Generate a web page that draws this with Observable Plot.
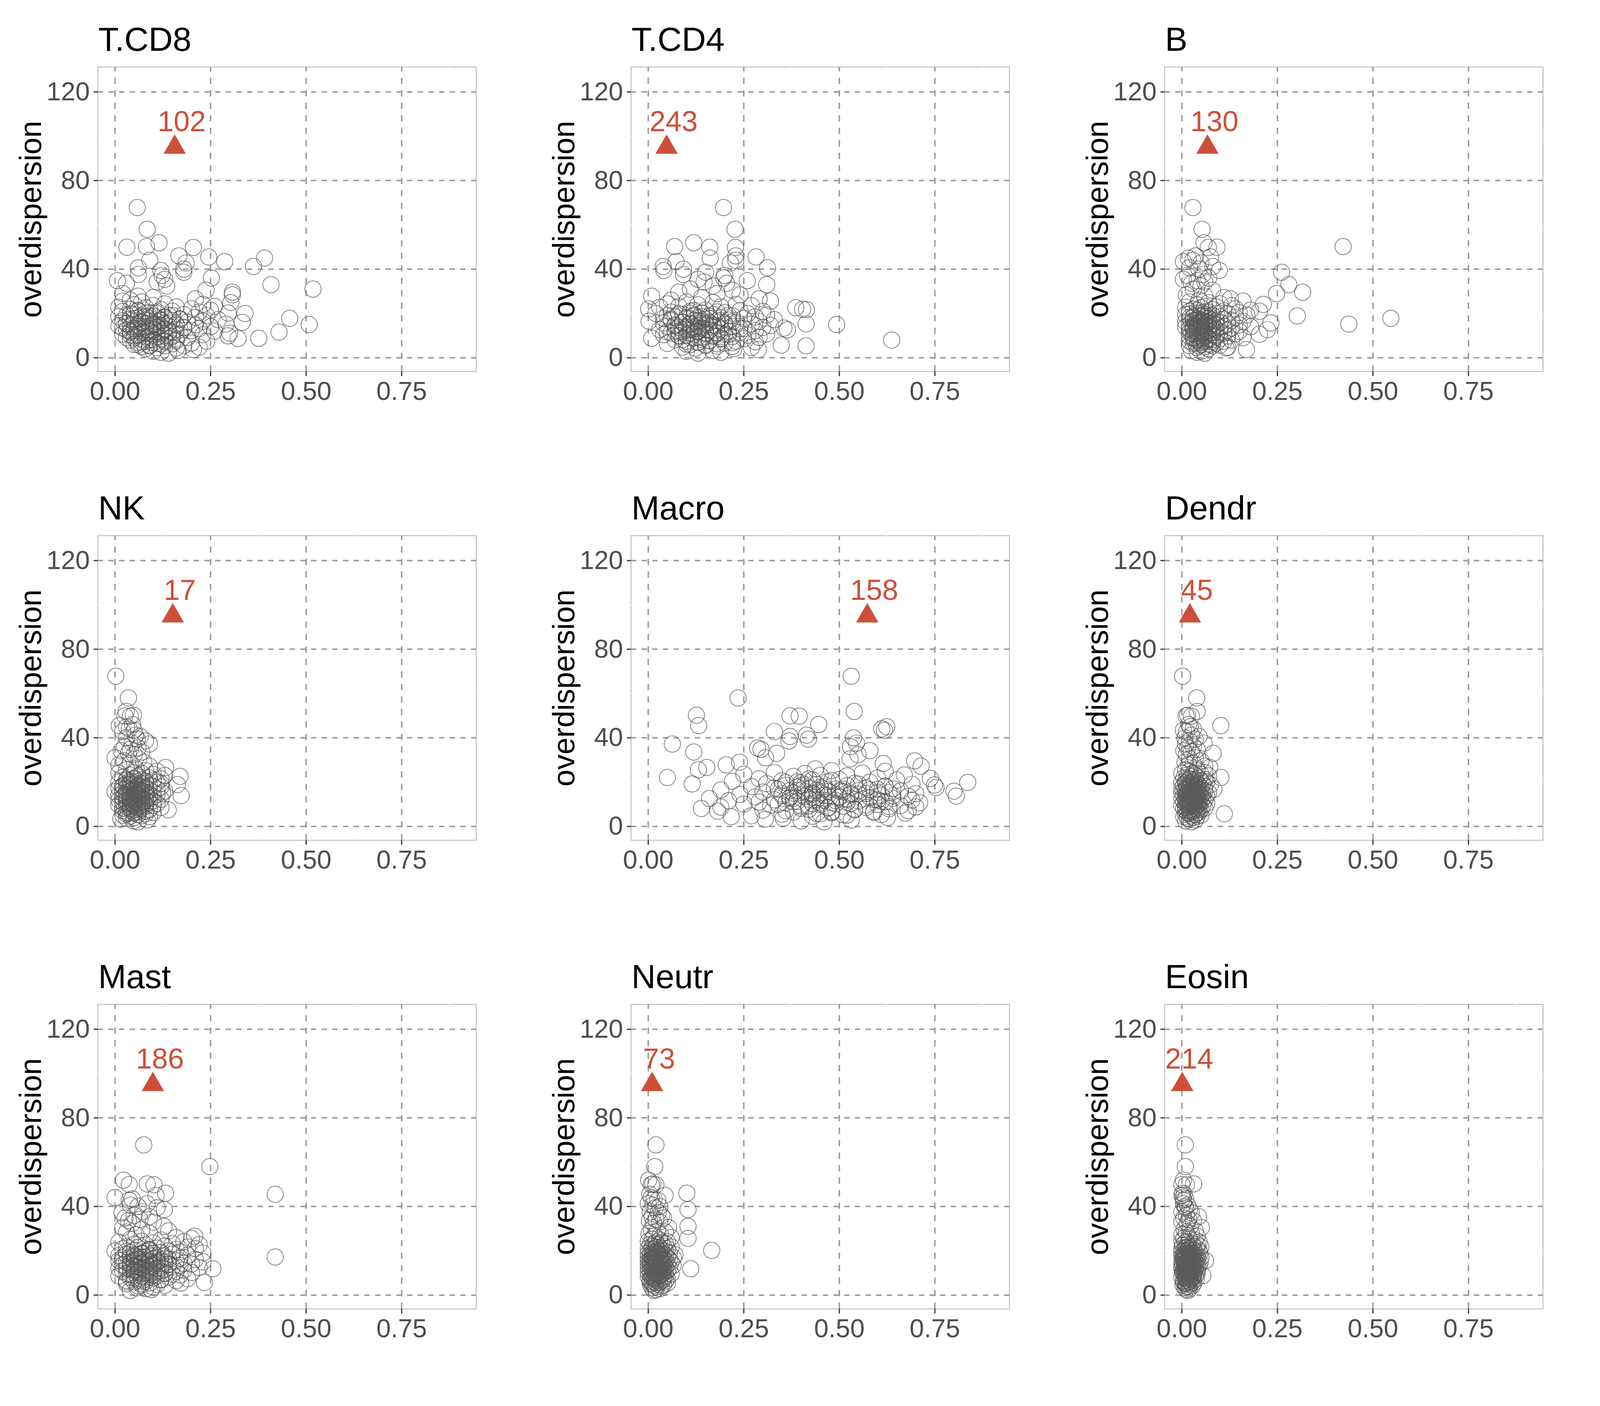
<!DOCTYPE html>
<html>
<head>
<meta charset="utf-8">
<script src="https://cdn.jsdelivr.net/npm/d3@7"></script>
<script src="https://cdn.jsdelivr.net/npm/@observablehq/plot@0.6"></script>
<style>
  html, body { margin: 0; padding: 0; background: white; overflow: hidden; }
  #chart { position: relative; overflow: hidden; background: white; }
</style>
</head>
<body>
<div id="chart"></div>
<script>
// ---------- data ----------
const cellTypes = ["T.CD8", "T.CD4", "B", "NK", "Macro", "Dendr", "Mast", "Neutr", "Eosin"];
const markerX = [0.156, 0.048, 0.067, 0.151, 0.573, 0.021, 0.099, 0.010, 0.001];
const markerY = [95, 95, 95, 95, 95, 95, 95, 95, 95];
const markerLabel = ["102", "243", "130", "17", "158", "45", "186", "73", "214"];

const xTicks = [0, 0.25, 0.5, 0.75];
const yTicks = [0, 40, 80, 120];
const xMinor = [0.125, 0.375, 0.625, 0.875];
const yMinor = [20, 60, 100];

// overdispersion per gene (shared by all panels)
const overdispersionHigh = [67.8, 58.0, 51.9, 50.2, 49.9, 49.8, 46.0, 45.5, 45.0, 44.0, 43.4, 42.8, 41.2, 40.6, 40.0, 39.4, 38.6, 37.6, 37.2, 36.0, 35.4, 34.8, 34.2, 33.6, 33.0, 32.4, 31.0, 30.5, 29.6, 29.0, 28.4, 27.8, 27.2, 26.6, 26.0];
const overdispersionLow = [
  25.6, 25.2, 24.9, 24.3, 24.1, 23.9, 23.5, 23.2, 23.0, 22.8,
  22.6, 22.1, 21.9, 21.7, 21.5, 21.2, 21.0, 20.9, 20.6, 20.4,
  20.2, 20.0, 19.9, 19.7, 19.5, 19.3, 19.2, 19.0, 18.9, 18.7,
  18.5, 18.4, 18.2, 18.0, 17.9, 17.8, 17.6, 17.4, 17.2, 17.0,
  16.9, 16.8, 16.7, 16.5, 16.4, 16.2, 16.1, 16.0, 15.9, 15.7,
  15.6, 15.5, 15.3, 15.2, 15.0, 14.9, 14.8, 14.6, 14.5, 14.3,
  14.2, 14.1, 14.0, 13.9, 13.7, 13.6, 13.4, 13.3, 13.2, 13.0,
  12.9, 12.7, 12.6, 12.5, 12.3, 12.2, 12.0, 11.9, 11.8, 11.6,
  11.5, 11.3, 11.1, 11.0, 10.8, 10.7, 10.6, 10.4, 10.2, 10.1,
  9.9, 9.8, 9.6, 9.4, 9.2, 9.1, 8.8, 8.7, 8.6, 8.3,
  8.1, 8.0, 7.7, 7.5, 7.4, 7.2, 6.9, 6.6, 6.5, 6.3,
  6.0, 5.7, 5.5, 5.4, 5.1, 4.8, 4.6, 4.4, 4.1, 3.7,
  3.3, 2.9, 2.5, 2.1
];
const overdispersionCore = [
  21.4, 20.7, 19.8, 19.1, 18.6, 18.1, 17.7, 17.3, 16.8, 16.6,
  16.3, 15.8, 15.4, 15.1, 14.7, 14.4, 14.0, 13.8, 13.5, 13.1,
  12.8, 12.4, 12.1, 11.7, 11.4, 11.2, 10.9, 10.5, 10.0, 9.7,
  9.3, 8.9, 8.5, 8.2, 7.8, 7.1, 6.8, 6.2, 5.9, 5.3,
  20.1, 17.0, 14.6, 13.2, 11.9, 16.0, 18.8, 15.0, 12.6, 10.3
];

// x values per cell type (same gene order as overdispersion arrays)
const xTCD8High = [0.058, 0.084, 0.115, 0.082, 0.031, 0.205, 0.167, 0.245, 0.391, 0.091, 0.287, 0.186, 0.362, 0.061, 0.18, 0.12, 0.18, 0.061, 0.123, 0.252, 0.13, 0.006, 0.11, 0.03, 0.408, 0.135, 0.518, 0.238, 0.307, 0.02, 0.307, 0.06, 0.10, 0.21, 0.04];
const xTCD8Low = [
  0.02, 0.07, 0.303, 0.13, 0.23, 0.05, 0.10, 0.26, 0.16, 0.01,
  0.08, 0.20, 0.04, 0.12, 0.25, 0.06, 0.15, 0.02, 0.22, 0.09,
  0.296, 0.34, 0.11, 0.05, 0.18, 0.03, 0.14, 0.24, 0.07, 0.10,
  0.01, 0.13, 0.21, 0.06, 0.09, 0.457, 0.17, 0.04, 0.27, 0.12,
  0.08, 0.15, 0.02, 0.23, 0.11, 0.05, 0.19, 0.333, 0.07, 0.13,
  0.03, 0.10, 0.16, 0.29, 0.508, 0.06, 0.21, 0.12, 0.01, 0.09,
  0.14, 0.04, 0.25, 0.08, 0.18, 0.11, 0.02, 0.06, 0.22, 0.13,
  0.07, 0.16, 0.03, 0.10, 0.20, 0.05, 0.26, 0.12, 0.09, 0.429,
  0.04, 0.14, 0.30, 0.08, 0.17, 0.02, 0.11, 0.23, 0.06, 0.13,
  0.296, 0.05, 0.15, 0.09, 0.19, 0.03, 0.376, 0.322, 0.12, 0.07,
  0.10, 0.04, 0.16, 0.24, 0.08, 0.13, 0.06, 0.20, 0.11, 0.15,
  0.05, 0.09, 0.18, 0.13, 0.07, 0.22, 0.11, 0.16, 0.08, 0.205,
  0.165, 0.10, 0.12, 0.14
];
const xTCD8Core = [
  0.06, 0.11, 0.04, 0.15, 0.08, 0.13, 0.05, 0.17, 0.09, 0.12,
  0.07, 0.14, 0.03, 0.10, 0.16, 0.06, 0.11, 0.08, 0.18, 0.05,
  0.13, 0.09, 0.04, 0.15, 0.07, 0.12, 0.10, 0.06, 0.14, 0.08,
  0.11, 0.05, 0.16, 0.09, 0.13, 0.07, 0.10, 0.12, 0.06, 0.09,
  0.08, 0.12, 0.10, 0.05, 0.14, 0.07, 0.09, 0.11, 0.13, 0.04
];

const xTCD4High = [0.197, 0.227, 0.119, 0.069, 0.161, 0.228, 0.229, 0.282, 0.162, 0.229, 0.073, 0.215, 0.039, 0.312, 0.092, 0.041, 0.15, 0.092, 0.20, 0.197, 0.13, 0.259, 0.146, 0.205, 0.31, 0.17, 0.11, 0.22, 0.08, 0.18, 0.24, 0.009, 0.14, 0.29, 0.06];
const xTCD4Low = [
  0.32, 0.10, 0.17, 0.05, 0.23, 0.13, 0.27, 0.08, 0.19, 0.03,
  0.386, 0.001, 0.404, 0.414, 0.15, 0.24, 0.11, 0.30, 0.06, 0.20,
  0.14, 0.02, 0.26, 0.09, 0.17, 0.31, 0.12, 0.05, 0.22, 0.16,
  0.07, 0.28, 0.13, 0.19, 0.04, 0.25, 0.10, 0.15, 0.33, 0.21,
  0.12, 0.06, 0.18, 0.002, 0.29, 0.14, 0.09, 0.23, 0.16, 0.04,
  0.20, 0.11, 0.413, 0.27, 0.493, 0.07, 0.15, 0.32, 0.13, 0.18,
  0.05, 0.22, 0.10, 0.17, 0.30, 0.08, 0.355, 0.14, 0.25, 0.12,
  0.19, 0.03, 0.364, 0.11, 0.16, 0.28, 0.07, 0.21, 0.13, 0.09,
  0.24, 0.15, 0.06, 0.18, 0.31, 0.12, 0.20, 0.04, 0.26, 0.10,
  0.17, 0.08, 0.22, 0.13, 0.29, 0.11, 0.009, 0.19, 0.25, 0.14,
  0.07, 0.637, 0.16, 0.23, 0.10, 0.28, 0.13, 0.20, 0.05, 0.18,
  0.11, 0.348, 0.15, 0.413, 0.22, 0.09, 0.27, 0.124, 0.224, 0.288,
  0.168, 0.10, 0.19, 0.13
];
const xTCD4Core = [
  0.12, 0.18, 0.08, 0.21, 0.14, 0.10, 0.16, 0.06, 0.19, 0.13,
  0.22, 0.09, 0.15, 0.11, 0.17, 0.07, 0.20, 0.12, 0.14, 0.24,
  0.10, 0.16, 0.13, 0.05, 0.18, 0.11, 0.15, 0.21, 0.08, 0.17,
  0.14, 0.12, 0.19, 0.09, 0.16, 0.13, 0.22, 0.10, 0.15, 0.18,
  0.11, 0.14, 0.17, 0.13, 0.08, 0.16, 0.12, 0.20, 0.15, 0.10
];

const xBHigh = [0.029, 0.053, 0.058, 0.422, 0.092, 0.069, 0.036, 0.075, 0.017, 0.029, 0.004, 0.05, 0.081, 0.02, 0.045, 0.098, 0.261, 0.055, 0.015, 0.07, 0.004, 0.04, 0.06, 0.025, 0.28, 0.05, 0.03, 0.08, 0.316, 0.248, 0.012, 0.06, 0.11, 0.127, 0.045];
const xBLow = [
  0.16, 0.02, 0.07, 0.10, 0.213, 0.04, 0.13, 0.06, 0.09, 0.01,
  0.05, 0.14, 0.03, 0.08, 0.18, 0.11, 0.203, 0.02, 0.07, 0.15,
  0.04, 0.09, 0.12, 0.06, 0.01, 0.17, 0.05, 0.08, 0.302, 0.03,
  0.10, 0.06, 0.14, 0.02, 0.07, 0.547, 0.04, 0.11, 0.08, 0.05,
  0.13, 0.03, 0.09, 0.06, 0.16, 0.01, 0.05, 0.10, 0.07, 0.233,
  0.04, 0.08, 0.12, 0.437, 0.02, 0.06, 0.15, 0.09, 0.03, 0.11,
  0.07, 0.05, 0.18, 0.01, 0.10, 0.04, 0.13, 0.08, 0.06, 0.02,
  0.09, 0.224, 0.05, 0.12, 0.03, 0.07, 0.15, 0.04, 0.10, 0.06,
  0.02, 0.08, 0.11, 0.05, 0.14, 0.03, 0.203, 0.07, 0.09, 0.04,
  0.06, 0.12, 0.02, 0.09, 0.05, 0.16, 0.07, 0.03, 0.10, 0.08,
  0.04, 0.13, 0.06, 0.02, 0.11, 0.08, 0.05, 0.09, 0.03, 0.07,
  0.05, 0.10, 0.02, 0.08, 0.06, 0.12, 0.04, 0.116, 0.07, 0.169,
  0.025, 0.05, 0.04, 0.06
];
const xBCore = [
  0.04, 0.06, 0.02, 0.08, 0.05, 0.03, 0.07, 0.045, 0.055, 0.035,
  0.065, 0.025, 0.05, 0.075, 0.04, 0.06, 0.03, 0.085, 0.05, 0.02,
  0.045, 0.07, 0.035, 0.055, 0.06, 0.025, 0.04, 0.08, 0.05, 0.065,
  0.03, 0.055, 0.045, 0.07, 0.04, 0.06, 0.035, 0.05, 0.075, 0.045,
  0.05, 0.04, 0.06, 0.03, 0.055, 0.045, 0.065, 0.035, 0.05, 0.06
];

const xNKHigh = [0.002, 0.035, 0.029, 0.048, 0.026, 0.04, 0.046, 0.011, 0.03, 0.037, 0.05, 0.02, 0.053, 0.066, 0.03, 0.058, 0.08, 0.045, 0.09, 0.025, 0.06, 0.04, 0.016, 0.07, 0.035, 0.05, 0.0, 0.062, 0.024, 0.075, 0.04, 0.01, 0.09, 0.132, 0.055];
const xNKLow = [
  0.03, 0.08, 0.11, 0.05, 0.01, 0.07, 0.10, 0.04, 0.13, 0.06,
  0.17, 0.02, 0.09, 0.05, 0.12, 0.03, 0.07, 0.10, 0.04, 0.08,
  0.06, 0.01, 0.11, 0.04, 0.08, 0.12, 0.03, 0.07, 0.163, 0.05,
  0.09, 0.02, 0.06, 0.10, 0.04, 0.12, 0.07, 0.01, 0.05, 0.08,
  0.03, 0.11, 0.06, 0.02, 0.09, 0.04, 0.07, 0.13, 0.05, 0.00,
  0.08, 0.04, 0.10, 0.06, 0.124, 0.02, 0.07, 0.05, 0.11, 0.03,
  0.06, 0.09, 0.01, 0.173, 0.04, 0.08, 0.05, 0.10, 0.03, 0.07,
  0.02, 0.06, 0.09, 0.04, 0.12, 0.07, 0.01, 0.05, 0.08, 0.03,
  0.10, 0.04, 0.07, 0.02, 0.06, 0.09, 0.03, 0.11, 0.05, 0.08,
  0.04, 0.07, 0.01, 0.10, 0.05, 0.08, 0.03, 0.06, 0.12, 0.02,
  0.07, 0.04, 0.09, 0.139, 0.05, 0.02, 0.08, 0.06, 0.03, 0.10,
  0.05, 0.08, 0.03, 0.06, 0.02, 0.07, 0.04, 0.09, 0.05, 0.03,
  0.015, 0.084, 0.048, 0.06
];
const xNKCore = [
  0.05, 0.03, 0.07, 0.04, 0.06, 0.02, 0.08, 0.05, 0.035, 0.065,
  0.045, 0.075, 0.03, 0.055, 0.04, 0.07, 0.025, 0.06, 0.05, 0.085,
  0.04, 0.055, 0.065, 0.03, 0.05, 0.075, 0.045, 0.035, 0.06, 0.05,
  0.07, 0.04, 0.055, 0.025, 0.065, 0.045, 0.08, 0.05, 0.035, 0.06,
  0.045, 0.055, 0.04, 0.065, 0.05, 0.06, 0.035, 0.07, 0.05, 0.045
];

const xMacroHigh = [0.531, 0.235, 0.539, 0.126, 0.371, 0.395, 0.446, 0.132, 0.624, 0.611, 0.618, 0.33, 0.414, 0.371, 0.537, 0.419, 0.368, 0.545, 0.063, 0.529, 0.286, 0.295, 0.58, 0.119, 0.336, 0.549, 0.307, 0.528, 0.697, 0.239, 0.615, 0.204, 0.714, 0.153, 0.437];
const xMacroLow = [
  0.131, 0.48, 0.62, 0.33, 0.56, 0.41, 0.25, 0.67, 0.45, 0.52,
  0.38, 0.05, 0.60, 0.738, 0.29, 0.50, 0.43, 0.65, 0.35, 0.22,
  0.47, 0.58, 0.836, 0.40, 0.54, 0.31, 0.115, 0.69, 0.44, 0.749,
  0.36, 0.52, 0.62, 0.27, 0.46, 0.39, 0.753, 0.57, 0.42, 0.64,
  0.49, 0.34, 0.60, 0.19, 0.44, 0.55, 0.37, 0.66, 0.80, 0.41,
  0.51, 0.30, 0.63, 0.45, 0.38, 0.57, 0.70, 0.43, 0.24, 0.53,
  0.40, 0.61, 0.47, 0.35, 0.806, 0.68, 0.50, 0.28, 0.44, 0.58,
  0.37, 0.64, 0.16, 0.52, 0.42, 0.59, 0.33, 0.69, 0.46, 0.21,
  0.55, 0.39, 0.62, 0.29, 0.48, 0.71, 0.36, 0.53, 0.43, 0.25,
  0.60, 0.45, 0.32, 0.66, 0.51, 0.40, 0.70, 0.19, 0.57, 0.47,
  0.139, 0.63, 0.42, 0.54, 0.30, 0.68, 0.182, 0.48, 0.38, 0.59,
  0.673, 0.45, 0.35, 0.61, 0.52, 0.27, 0.43, 0.217, 0.626, 0.353,
  0.306, 0.531, 0.40, 0.46
];
const xMacroCore = [
  0.42, 0.48, 0.36, 0.55, 0.40, 0.62, 0.45, 0.33, 0.51, 0.58,
  0.39, 0.47, 0.60, 0.43, 0.35, 0.53, 0.46, 0.64, 0.41, 0.50,
  0.37, 0.56, 0.44, 0.49, 0.61, 0.38, 0.52, 0.45, 0.34, 0.57,
  0.42, 0.63, 0.47, 0.40, 0.54, 0.36, 0.59, 0.48, 0.44, 0.51,
  0.39, 0.46, 0.55, 0.43, 0.60, 0.50, 0.41, 0.53, 0.38, 0.49
];

const xDendrHigh = [0.002, 0.039, 0.04, 0.015, 0.011, 0.025, 0.018, 0.102, 0.022, 0.03, 0.004, 0.012, 0.025, 0.045, 0.008, 0.035, 0.02, 0.058, 0.01, 0.03, 0.015, 0.04, 0.005, 0.025, 0.082, 0.012, 0.035, 0.02, 0.05, 0.008, 0.03, 0.018, 0.06, 0.073, 0.04];
const xDendrLow = [
  0.01, 0.04, 0.02, 0.06, 0.03, 0.00, 0.05, 0.015, 0.035, 0.07,
  0.025, 0.102, 0.005, 0.045, 0.02, 0.06, 0.01, 0.035, 0.05, 0.015,
  0.03, 0.065, 0.00, 0.04, 0.02, 0.055, 0.01, 0.035, 0.075, 0.025,
  0.045, 0.005, 0.03, 0.06, 0.015, 0.04, 0.02, 0.05, 0.00, 0.035,
  0.01, 0.084, 0.025, 0.045, 0.005, 0.035, 0.06, 0.02, 0.04, 0.015,
  0.03, 0.05, 0.00, 0.07, 0.02, 0.04, 0.01, 0.055, 0.025, 0.035,
  0.045, 0.015, 0.03, 0.065, 0.005, 0.04, 0.02, 0.05, 0.01, 0.035,
  0.025, 0.055, 0.00, 0.04, 0.015, 0.03, 0.06, 0.01, 0.045, 0.02,
  0.035, 0.005, 0.05, 0.02, 0.04, 0.01, 0.03, 0.065, 0.015, 0.045,
  0.025, 0.04, 0.00, 0.055, 0.015, 0.03, 0.01, 0.045, 0.02, 0.06,
  0.035, 0.005, 0.05, 0.02, 0.04, 0.01, 0.03, 0.025, 0.045, 0.015,
  0.02, 0.111, 0.035, 0.01, 0.05, 0.025, 0.04, 0.005, 0.03, 0.015,
  0.02, 0.035, 0.01, 0.025
];
const xDendrCore = [
  0.02, 0.03, 0.01, 0.04, 0.025, 0.015, 0.035, 0.02, 0.045, 0.03,
  0.01, 0.025, 0.04, 0.02, 0.035, 0.015, 0.03, 0.05, 0.02, 0.025,
  0.04, 0.01, 0.03, 0.02, 0.045, 0.035, 0.015, 0.025, 0.04, 0.03,
  0.02, 0.035, 0.01, 0.045, 0.025, 0.03, 0.02, 0.04, 0.015, 0.035,
  0.025, 0.03, 0.02, 0.04, 0.015, 0.035, 0.025, 0.03, 0.02, 0.045
];

const xMastHigh = [0.075, 0.248, 0.022, 0.084, 0.037, 0.102, 0.132, 0.419, 0.107, 0.0, 0.045, 0.037, 0.084, 0.04, 0.06, 0.11, 0.129, 0.073, 0.018, 0.05, 0.09, 0.026, 0.065, 0.035, 0.10, 0.045, 0.128, 0.02, 0.07, 0.14, 0.03, 0.09, 0.055, 0.208, 0.16];
const xMastLow = [
  0.20, 0.04, 0.12, 0.07, 0.18, 0.01, 0.10, 0.15, 0.05, 0.22,
  0.08, 0.13, 0.03, 0.19, 0.06, 0.11, 0.21, 0.02, 0.16, 0.09,
  0.05, 0.14, 0.00, 0.08, 0.17, 0.04, 0.12, 0.23, 0.07, 0.10,
  0.03, 0.15, 0.06, 0.19, 0.09, 0.01, 0.13, 0.05, 0.419, 0.11,
  0.07, 0.02, 0.17, 0.10, 0.04, 0.14, 0.21, 0.06, 0.12, 0.08,
  0.01, 0.16, 0.09, 0.05, 0.23, 0.11, 0.03, 0.13, 0.07, 0.18,
  0.04, 0.10, 0.20, 0.06, 0.14, 0.02, 0.08, 0.17, 0.12, 0.05,
  0.09, 0.15, 0.03, 0.22, 0.07, 0.11, 0.01, 0.256, 0.06, 0.13,
  0.04, 0.18, 0.08, 0.12, 0.02, 0.16, 0.06, 0.10, 0.20, 0.05,
  0.13, 0.07, 0.03, 0.15, 0.09, 0.17, 0.05, 0.11, 0.01, 0.08,
  0.14, 0.04, 0.10, 0.06, 0.19, 0.08, 0.12, 0.03, 0.16, 0.07,
  0.05, 0.234, 0.09, 0.172, 0.03, 0.11, 0.07, 0.13, 0.06, 0.10,
  0.058, 0.08, 0.095, 0.04
];
const xMastCore = [
  0.06, 0.09, 0.03, 0.12, 0.07, 0.05, 0.10, 0.04, 0.08, 0.13,
  0.06, 0.02, 0.11, 0.07, 0.09, 0.05, 0.14, 0.08, 0.04, 0.10,
  0.06, 0.12, 0.07, 0.03, 0.09, 0.05, 0.11, 0.08, 0.06, 0.13,
  0.04, 0.10, 0.07, 0.09, 0.05, 0.12, 0.06, 0.08, 0.03, 0.07,
  0.09, 0.06, 0.11, 0.05, 0.08, 0.07, 0.10, 0.04, 0.06, 0.09
];

const xNeutrHigh = [0.02, 0.017, 0.001, 0.012, 0.008, 0.02, 0.101, 0.004, 0.044, 0.008, 0.015, 0.025, 0.0, 0.012, 0.03, 0.018, 0.104, 0.005, 0.026, 0.035, 0.01, 0.04, 0.02, 0.003, 0.03, 0.014, 0.104, 0.053, 0.008, 0.024, 0.045, 0.002, 0.032, 0.015, 0.06];
const xNeutrLow = [
  0.104, 0.01, 0.03, 0.00, 0.05, 0.02, 0.035, 0.015, 0.045, 0.005,
  0.025, 0.04, 0.01, 0.06, 0.02, 0.03, 0.00, 0.05, 0.015, 0.035,
  0.166, 0.005, 0.045, 0.02, 0.03, 0.01, 0.055, 0.025, 0.00, 0.04,
  0.015, 0.035, 0.07, 0.005, 0.025, 0.045, 0.01, 0.03, 0.02, 0.05,
  0.00, 0.066, 0.02, 0.04, 0.01, 0.03, 0.015, 0.055, 0.005, 0.035,
  0.025, 0.045, 0.00, 0.02, 0.06, 0.01, 0.035, 0.015, 0.04, 0.005,
  0.03, 0.02, 0.05, 0.00, 0.04, 0.015, 0.025, 0.065, 0.01, 0.035,
  0.005, 0.045, 0.02, 0.03, 0.00, 0.055, 0.015, 0.111, 0.04, 0.025,
  0.01, 0.035, 0.02, 0.05, 0.005, 0.03, 0.045, 0.015, 0.00, 0.04,
  0.025, 0.01, 0.06, 0.02, 0.035, 0.005, 0.03, 0.045, 0.015, 0.00,
  0.04, 0.02, 0.01, 0.05, 0.03, 0.015, 0.005, 0.035, 0.025, 0.045,
  0.01, 0.03, 0.02, 0.05, 0.005, 0.025, 0.04, 0.015, 0.035, 0.02,
  0.01, 0.03, 0.02, 0.015
];
const xNeutrCore = [
  0.02, 0.01, 0.03, 0.015, 0.025, 0.005, 0.035, 0.02, 0.01, 0.03,
  0.04, 0.015, 0.025, 0.005, 0.02, 0.035, 0.01, 0.03, 0.02, 0.045,
  0.015, 0.025, 0.01, 0.03, 0.02, 0.04, 0.005, 0.025, 0.015, 0.035,
  0.02, 0.01, 0.03, 0.025, 0.015, 0.04, 0.02, 0.005, 0.03, 0.01,
  0.025, 0.015, 0.02, 0.035, 0.01, 0.03, 0.02, 0.025, 0.015, 0.02
];

const xEosinHigh = [0.009, 0.009, 0.004, 0.031, 0.0, 0.012, 0.002, 0.006, 0.0, 0.003, 0.01, 0.005, 0.004, 0.015, 0.008, 0.01, 0.02, 0.0, 0.025, 0.012, 0.044, 0.005, 0.018, 0.03, 0.0, 0.014, 0.022, 0.051, 0.006, 0.035, 0.012, 0.025, 0.0, 0.04, 0.018];
const xEosinLow = [
  0.005, 0.02, 0.035, 0.00, 0.012, 0.045, 0.008, 0.028, 0.015, 0.04,
  0.002, 0.03, 0.018, 0.05, 0.01, 0.025, 0.00, 0.04, 0.015, 0.032,
  0.006, 0.022, 0.045, 0.012, 0.00, 0.035, 0.018, 0.028, 0.047, 0.008,
  0.03, 0.004, 0.02, 0.04, 0.012, 0.025, 0.00, 0.035, 0.015, 0.05,
  0.01, 0.028, 0.002, 0.042, 0.018, 0.032, 0.006, 0.022, 0.038, 0.014,
  0.062, 0.004, 0.026, 0.012, 0.036, 0.0, 0.02, 0.048, 0.01, 0.03,
  0.016, 0.04, 0.002, 0.024, 0.034, 0.008, 0.045, 0.014, 0.028, 0.0,
  0.02, 0.036, 0.006, 0.03, 0.012, 0.042, 0.018, 0.0, 0.026, 0.01,
  0.034, 0.004, 0.022, 0.014, 0.04, 0.008, 0.028, 0.018, 0.002, 0.032,
  0.012, 0.025, 0.04, 0.005, 0.02, 0.03, 0.055, 0.01, 0.035, 0.015,
  0.0, 0.028, 0.018, 0.038, 0.008, 0.022, 0.012, 0.03, 0.004, 0.02,
  0.015, 0.032, 0.006, 0.024, 0.01, 0.02, 0.003, 0.028, 0.014, 0.018,
  0.008, 0.02, 0.012, 0.016
];
const xEosinCore = [
  0.012, 0.02, 0.005, 0.028, 0.015, 0.008, 0.022, 0.01, 0.03, 0.018,
  0.004, 0.025, 0.014, 0.02, 0.009, 0.032, 0.016, 0.006, 0.024, 0.012,
  0.02, 0.028, 0.01, 0.015, 0.035, 0.005, 0.018, 0.022, 0.012, 0.026,
  0.008, 0.02, 0.014, 0.03, 0.01, 0.024, 0.016, 0.004, 0.02, 0.012,
  0.018, 0.025, 0.01, 0.015, 0.022, 0.008, 0.02, 0.028, 0.014, 0.018
];

// ---------- drawing ----------
const highX = [xTCD8High, xTCD4High, xBHigh, xNKHigh, xMacroHigh, xDendrHigh, xMastHigh, xNeutrHigh, xEosinHigh];
const lowX = [xTCD8Low, xTCD4Low, xBLow, xNKLow, xMacroLow, xDendrLow, xMastLow, xNeutrLow, xEosinLow];
const coreX = [xTCD8Core, xTCD4Core, xBCore, xNKCore, xMacroCore, xDendrCore, xMastCore, xNeutrCore, xEosinCore];
const overdispersion = overdispersionHigh.concat(overdispersionLow, overdispersionCore);

const FONT = '"Liberation Sans", Arial, Helvetica, sans-serif';
const RED = "#cd4f39";
const container = document.getElementById("chart");

// lay the 3x3 grid out over the whole viewport (designed for 4800x3600)
const VW = document.documentElement.clientWidth || window.innerWidth || 4800;
const VH = document.documentElement.clientHeight || window.innerHeight || 3600;
const sx = VW / 4800, sy = VH / 3600, k = Math.sqrt(sx * sy);
const cellW = VW / 3, cellH = VH / 3;
container.style.width = VW + "px";
container.style.height = VH + "px";

cellTypes.forEach((name, i) => {
  const xs = highX[i].concat(lowX[i], coreX[i]);
  const n = Math.min(xs.length, overdispersion.length);
  const points = [];
  for (let j = 0; j < n; j++) points.push({x: xs[j], y: overdispersion[j]});

  const svg = Plot.plot({
    width: cellW,
    height: cellH,
    marginLeft: 293 * sx,
    marginRight: 172 * sx,
    marginTop: 171 * sy,
    marginBottom: 249 * sy,
    x: {domain: [-0.045, 0.945], label: null},
    y: {domain: [-6.25, 131.25], label: null},
    style: {fontFamily: FONT, background: "white", color: "black", overflow: "visible", maxWidth: "none"},
    marks: [
      Plot.frame({stroke: "#b3b3b3", strokeWidth: 2.2 * k}),
      Plot.gridX(xMinor, {stroke: "white", strokeOpacity: 1, strokeWidth: 2.5 * k}),
      Plot.gridY(yMinor, {stroke: "white", strokeOpacity: 1, strokeWidth: 2.5 * k}),
      Plot.gridX(xTicks, {stroke: "#999999", strokeOpacity: 1, strokeWidth: 4 * k, strokeDasharray: `${16 * sy},${16 * sy}`, strokeDashoffset: 4 * sy}),
      Plot.gridY(yTicks, {stroke: "#999999", strokeOpacity: 1, strokeWidth: 4 * k, strokeDasharray: `${16 * sx},${16 * sx}`}),
      Plot.axisX(xTicks, {label: null, tickSize: 12 * sy, tickPadding: 13 * sy, fontSize: 72 * k, tickFormat: d3.format(".2f"), stroke: "#333333", fill: "#4d4d4d", strokeWidth: 3.3 * k}),
      Plot.axisY(yTicks, {label: null, tickSize: 12 * sx, tickPadding: 12 * sx, fontSize: 72 * k, stroke: "#333333", fill: "#4d4d4d", strokeWidth: 3.3 * k}),
      Plot.dot(points, {x: "x", y: "y", r: 22.6 * k, stroke: "#5a5a5a", strokeWidth: 1.6 * k, fill: "none"}),
      Plot.dot([i], {x: d => markerX[d], y: d => markerY[d], symbol: "triangle", r: 23 * k, fill: RED, stroke: "none"}),
      Plot.text([i], {x: d => markerX[d], y: d => markerY[d], text: d => markerLabel[d], fill: RED, fontSize: 80 * k, dx: 21 * sx, dy: -41 * sy, lineAnchor: "bottom", textAnchor: "middle"}),
      Plot.text([name], {text: d => d, frameAnchor: "top-left", dx: 1 * sx, dy: -41 * sy, lineAnchor: "bottom", textAnchor: "start", fontSize: 93 * k, fill: "black"}),
      Plot.text(["overdispersion"], {text: d => d, frameAnchor: "left", rotate: -90, dx: -171 * sx, lineAnchor: "bottom", textAnchor: "middle", fontSize: 84 * k, fill: "black"})
    ]
  });

  const cell = document.createElement("div");
  cell.style.position = "absolute";
  cell.style.left = ((i % 3) * cellW) + "px";
  cell.style.top = (Math.floor(i / 3) * cellH) + "px";
  cell.style.width = cellW + "px";
  cell.style.height = cellH + "px";
  cell.appendChild(svg);
  container.appendChild(cell);
});
</script>
</body>
</html>
